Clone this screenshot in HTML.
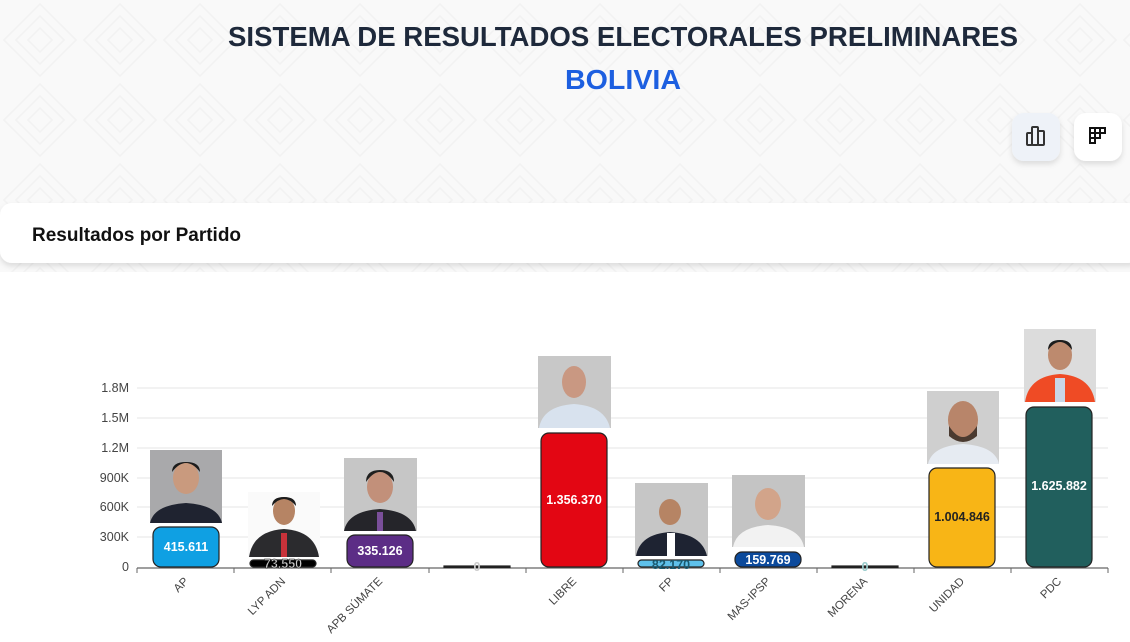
<!DOCTYPE html>
<html><head><meta charset="utf-8"><style>
html,body{margin:0;padding:0;background:#fff;}
svg{display:block;font-family:"Liberation Sans",sans-serif;}
</style></head><body>
<svg width="1130" height="642" viewBox="0 0 1130 642" xmlns="http://www.w3.org/2000/svg">
<defs>
<pattern id="pt" width="80" height="80" patternUnits="userSpaceOnUse">
<rect width="80" height="80" fill="#f9f9f9"/>
<path d="M40 4 L76 40 L40 76 L4 40Z M40 16 L64 40 L40 64 L16 40Z M40 28 L52 40 L40 52 L28 40Z" fill="none" stroke="#f2f2f2" stroke-width="1.5"/>
</pattern>
<filter id="sh" x="-10%" y="-30%" width="120%" height="180%"><feDropShadow dx="0" dy="3" stdDeviation="3" flood-color="#000" flood-opacity="0.12"/></filter>
</defs>
<rect width="1130" height="280" fill="url(#pt)"/>
<text x="623" y="46" text-anchor="middle" font-size="28" font-weight="bold" fill="#1e293b" textLength="790" lengthAdjust="spacingAndGlyphs">SISTEMA DE RESULTADOS ELECTORALES PRELIMINARES</text>
<text x="623" y="89" text-anchor="middle" font-size="28" font-weight="bold" fill="#1d5fe0" textLength="116" lengthAdjust="spacingAndGlyphs">BOLIVIA</text>
<rect x="1012" y="113" width="48" height="48" rx="12" fill="#eef2f8" filter="url(#sh)"/>
<g fill="none" stroke="#333" stroke-width="2"><rect x="1027" y="133" width="5" height="12" rx="1"/><rect x="1032" y="127" width="6" height="18" rx="1"/><rect x="1038" y="131" width="6" height="14" rx="1"/></g>
<rect x="1074" y="113" width="48" height="48" rx="12" fill="#fff" filter="url(#sh)"/>
<g fill="none" stroke="#111" stroke-width="2"><rect x="1090" y="128" width="5" height="5"/><rect x="1095" y="128" width="5" height="5"/><rect x="1100" y="128" width="5" height="5"/><rect x="1090" y="133" width="5" height="5"/><rect x="1095" y="133" width="5" height="5"/><rect x="1090" y="138" width="5" height="5"/></g>
<rect x="0" y="203" width="1140" height="60" rx="12" fill="#fff" filter="url(#sh)"/>
<rect x="0" y="272" width="1130" height="370" fill="#fff"/>
<text x="32" y="241" font-size="19" font-weight="bold" fill="#111">Resultados por Partido</text>
<g stroke="#e6e6e6" stroke-width="1">
<line x1="137" y1="388" x2="1108" y2="388"/><line x1="137" y1="418" x2="1108" y2="418"/><line x1="137" y1="448" x2="1108" y2="448"/><line x1="137" y1="478" x2="1108" y2="478"/><line x1="137" y1="507" x2="1108" y2="507"/><line x1="137" y1="537" x2="1108" y2="537"/>
</g>
<g font-size="12.5" fill="#444" text-anchor="end">
<text x="129" y="392">1.8M</text><text x="129" y="422">1.5M</text><text x="129" y="452">1.2M</text><text x="129" y="482">900K</text><text x="129" y="511">600K</text><text x="129" y="541">300K</text><text x="129" y="571">0</text>
</g>
<line x1="137" y1="568" x2="1108" y2="568" stroke="#666" stroke-width="1.2"/>
<g stroke="#666"><line x1="137" y1="568" x2="137" y2="573"/><line x1="234" y1="568" x2="234" y2="573"/><line x1="331" y1="568" x2="331" y2="573"/><line x1="429" y1="568" x2="429" y2="573"/><line x1="526" y1="568" x2="526" y2="573"/><line x1="623" y1="568" x2="623" y2="573"/><line x1="720" y1="568" x2="720" y2="573"/><line x1="817" y1="568" x2="817" y2="573"/><line x1="914" y1="568" x2="914" y2="573"/><line x1="1011" y1="568" x2="1011" y2="573"/><line x1="1108" y1="568" x2="1108" y2="573"/></g>
<g font-size="11.5" fill="#444" text-anchor="end">
<text transform="translate(189,582) rotate(-45)">AP</text>
<text transform="translate(286,582) rotate(-45)">LYP ADN</text>
<text transform="translate(383,582) rotate(-45)">APB SÚMATE</text>
<text transform="translate(577,582) rotate(-45)">LIBRE</text>
<text transform="translate(674,582) rotate(-45)">FP</text>
<text transform="translate(771,582) rotate(-45)">MAS-IPSP</text>
<text transform="translate(868,582) rotate(-45)">MORENA</text>
<text transform="translate(965,582) rotate(-45)">UNIDAD</text>
<text transform="translate(1062,582) rotate(-45)">PDC</text>
</g>
<g stroke="#222" stroke-width="1.2">
<rect x="153" y="527" width="66" height="40" rx="8" fill="#0fa0e3"/>
<rect x="250" y="560" width="66" height="7" rx="3.5" fill="#000"/>
<rect x="347" y="535" width="66" height="32" rx="8" fill="#5c2d86"/>
<rect x="444" y="566" width="66" height="1.5" fill="#222"/>
<rect x="541" y="433" width="66" height="134" rx="8" fill="#e30613"/>
<rect x="638" y="560" width="66" height="7" rx="3.5" fill="#5ec0ea"/>
<rect x="735" y="552" width="66" height="15" rx="7" fill="#0c4a9c"/>
<rect x="832" y="566" width="66" height="1.5" fill="#222"/>
<rect x="929" y="468" width="66" height="99" rx="8" fill="#f8b516"/>
<rect x="1026" y="407" width="66" height="160" rx="8" fill="#215f5d"/>
</g>
<g font-size="12.5" font-weight="bold" text-anchor="middle" fill="#fff">
<text x="186" y="551">415.611</text>
<text x="283" y="568" fill="#ccc" stroke="#000" stroke-width="0.4">73.550</text>
<text x="380" y="555">335.126</text>
<text x="477" y="571" fill="#ccc">0</text>
<text x="574" y="504">1.356.370</text>
<text x="671" y="569" fill="#1a5a70">82.170</text>
<text x="768" y="564">159.769</text>
<text x="865" y="571" fill="#9cc">0</text>
<text x="962" y="521" fill="#222">1.004.846</text>
<text x="1059" y="490">1.625.882</text>
</g>
<g>
<rect x="150" y="450" width="72" height="73" fill="#a9a9ab"/><ellipse cx="186" cy="478" rx="13" ry="16" fill="#c99a7e"/><path d="M172 472 q14 -18 28 0 q0 -10 -14 -10 q-14 0 -14 10z" fill="#1c1c1c"/><path d="M150 523 q4 -18 36 -20 q32 2 36 20z" fill="#1f2330"/>
<rect x="248" y="492" width="72" height="65" fill="#fafafa"/><ellipse cx="284" cy="511" rx="11" ry="14" fill="#b68464"/><path d="M272 506 q12 -14 24 0 q0 -9 -12 -9 q-12 0 -12 9z" fill="#1c1c1c"/><path d="M249 557 q4 -26 35 -28 q31 2 35 28z" fill="#2b2b2e"/><rect x="281" y="533" width="6" height="24" fill="#c8323a"/>
<rect x="344" y="458" width="73" height="73" fill="#c6c6c6"/><ellipse cx="380" cy="487" rx="13" ry="16" fill="#c2907a"/><path d="M366 482 q14 -20 28 0 q0 -12 -14 -12 q-14 0 -14 12z" fill="#1f1f1f"/><path d="M344 531 q4 -20 36 -22 q32 2 36 22z" fill="#25252a"/><rect x="377" y="512" width="6" height="19" fill="#7a4f9a"/>
<rect x="538" y="356" width="73" height="72" fill="#c8c8c8"/><ellipse cx="574" cy="382" rx="12" ry="16" fill="#c99882"/><path d="M539 428 q4 -22 35 -24 q31 2 36 24z" fill="#d8e2ee"/>
<rect x="635" y="483" width="73" height="73" fill="#c6c6c6"/><ellipse cx="670" cy="512" rx="11" ry="13" fill="#b68464"/><path d="M636 556 q4 -22 34 -24 q32 2 37 24z" fill="#1e2332"/><rect x="667" y="533" width="8" height="23" fill="#fff"/>
<rect x="732" y="475" width="73" height="72" fill="#c4c4c4"/><ellipse cx="768" cy="504" rx="13" ry="16" fill="#d2a48a"/><path d="M733 547 q4 -20 35 -22 q32 2 36 22z" fill="#f2f2f2"/>
<rect x="927" y="391" width="72" height="73" fill="#cfcfcf"/><ellipse cx="963" cy="420" rx="15" ry="19" fill="#b8856a"/><path d="M949 426 q14 22 28 0 l0 10 q-14 12 -28 0z" fill="#4a3a30"/><path d="M928 464 q4 -18 35 -20 q32 2 36 20z" fill="#e6ebf2"/>
<rect x="1024" y="329" width="72" height="73" fill="#dcdcdc"/><ellipse cx="1060" cy="355" rx="12" ry="15" fill="#bd8a6e"/><path d="M1048 350 q12 -16 24 0 q0 -10 -12 -10 q-12 0 -12 10z" fill="#1c1c1c"/><path d="M1025 402 q4 -26 35 -28 q31 2 35 28z" fill="#ef4b25"/><rect x="1055" y="378" width="10" height="24" fill="#c9d6e6"/>
</g>
</svg>
</body></html>
